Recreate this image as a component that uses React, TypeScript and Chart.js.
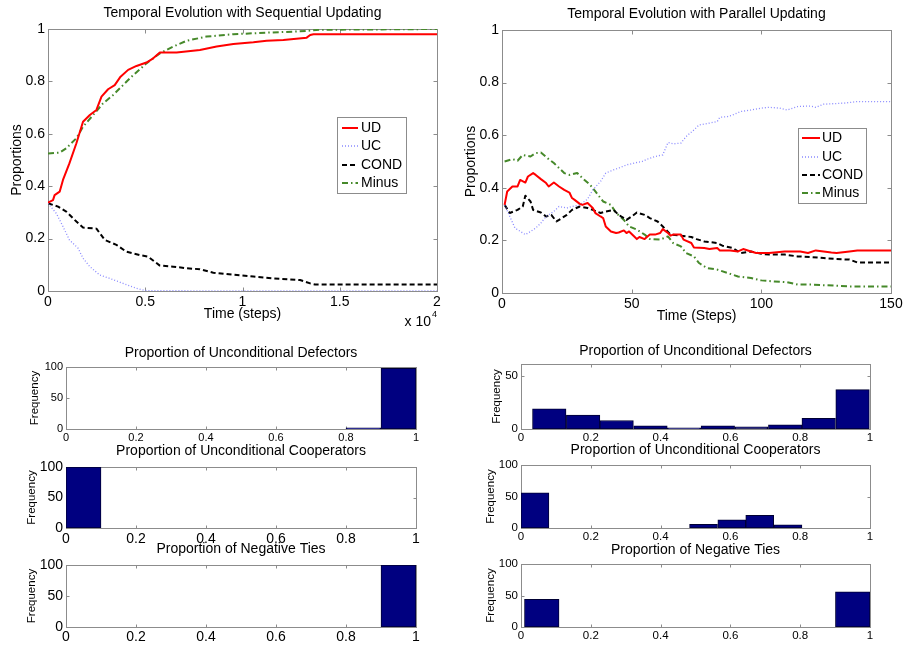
import React, { useEffect, useRef } from 'react';
import { Chart, registerables } from 'chart.js';

Chart.register(...registerables);

const FONT = "'Liberation Sans', Arial, Helvetica, sans-serif";
const AXIS = '#8c8c8c';

// ---------- Tick values ----------
const seqTicksX = [0, 5000, 10000, 15000, 20000];
const propTicksY = [0, 0.2, 0.4, 0.6, 0.8, 1];
const parTicksX = [0, 50, 100, 150];
const histTicksX = [0, 0.2, 0.4, 0.6, 0.8, 1];
const freqTicks100 = [0, 50, 100];
const freqTicks50 = [0, 50];

// ---------- Sequential updating (steps) ----------
const seqUD_t = [0, 257, 340, 600, 770, 1100, 1460, 1800, 2150, 2490, 2750, 3090, 3430, 3730, 4120, 4550, 5060, 5410, 5750, 6610, 7810, 8670, 9530, 10560, 11240, 12100, 13300, 13480, 13650, 20000];
const seqUD_v = [0.337, 0.347, 0.366, 0.379, 0.424, 0.487, 0.564, 0.646, 0.672, 0.691, 0.742, 0.770, 0.786, 0.818, 0.844, 0.859, 0.872, 0.888, 0.910, 0.910, 0.920, 0.933, 0.943, 0.949, 0.955, 0.958, 0.967, 0.977, 0.980, 0.980];
const seqUC_t = [0, 430, 770, 1100, 1550, 1800, 2150, 2660, 3180, 3860, 4550, 5060, 20000];
const seqUC_v = [0.335, 0.296, 0.246, 0.195, 0.163, 0.125, 0.093, 0.061, 0.048, 0.029, 0.010, 0.001, 0];
const seqCOND_t = [0, 520, 940, 1460, 1800, 2490, 2920, 3520, 4030, 4720, 5150, 5750, 6440, 7120, 7810, 8500, 9530, 10560, 11590, 12960, 13480, 13730, 20000];
const seqCOND_v = [0.335, 0.322, 0.303, 0.265, 0.242, 0.238, 0.195, 0.176, 0.150, 0.137, 0.131, 0.097, 0.093, 0.087, 0.083, 0.070, 0.062, 0.055, 0.048, 0.042, 0.029, 0.025, 0.025];
const seqMinus_t = [0, 600, 940, 1460, 1800, 2320, 2830, 3350, 3860, 4380, 5060, 5750, 6440, 7120, 8150, 9530, 11240, 12960, 13990, 20000];
const seqMinus_v = [0.525, 0.528, 0.545, 0.583, 0.627, 0.672, 0.716, 0.748, 0.786, 0.824, 0.869, 0.907, 0.933, 0.955, 0.971, 0.980, 0.986, 0.991, 0.997, 1.0];

// ---------- Parallel updating (steps) ----------
const parUD_t = [1, 2, 4, 6, 7, 9, 10, 12, 13, 15, 17, 18, 20, 22, 24, 26, 27, 28, 30, 31, 33, 35, 36, 38, 39, 40, 42, 44, 45, 47, 48, 49, 51, 52, 53, 55, 57, 59, 61, 62, 64, 65, 66, 69, 70, 73, 74, 78, 80, 83, 84, 88, 91, 93, 96, 98, 103, 109, 115, 118, 121, 127, 129, 134, 137, 150];
const parUD_v = [0.335, 0.386, 0.405, 0.405, 0.430, 0.420, 0.443, 0.456, 0.449, 0.433, 0.418, 0.405, 0.420, 0.405, 0.392, 0.382, 0.361, 0.354, 0.339, 0.335, 0.342, 0.323, 0.304, 0.291, 0.285, 0.253, 0.234, 0.228, 0.230, 0.238, 0.228, 0.234, 0.215, 0.205, 0.213, 0.205, 0.222, 0.222, 0.228, 0.243, 0.228, 0.218, 0.222, 0.222, 0.203, 0.190, 0.173, 0.171, 0.167, 0.171, 0.162, 0.162, 0.158, 0.167, 0.158, 0.152, 0.152, 0.158, 0.158, 0.152, 0.162, 0.154, 0.152, 0.158, 0.162, 0.162];
const parUC_t = [1, 3, 5, 9, 11, 13, 15, 17, 20, 22, 25, 27, 30, 33, 35, 38, 40, 43, 45, 48, 51, 54, 56, 59, 62, 64, 66, 69, 71, 74, 76, 80, 83, 84, 87, 89, 92, 96, 100, 103, 107, 110, 114, 119, 121, 124, 132, 137, 150];
const parUC_v = [0.335, 0.291, 0.247, 0.222, 0.234, 0.247, 0.266, 0.291, 0.310, 0.329, 0.323, 0.329, 0.335, 0.357, 0.392, 0.424, 0.456, 0.468, 0.475, 0.487, 0.494, 0.500, 0.509, 0.519, 0.525, 0.572, 0.567, 0.570, 0.595, 0.620, 0.639, 0.646, 0.652, 0.668, 0.671, 0.677, 0.690, 0.696, 0.703, 0.706, 0.703, 0.696, 0.709, 0.711, 0.706, 0.718, 0.722, 0.728, 0.728];
const parCOND_t = [1, 3, 6, 8, 9, 11, 12, 15, 17, 19, 21, 22, 25, 27, 30, 33, 35, 38, 40, 43, 45, 48, 50, 52, 55, 57, 60, 62, 65, 69, 73, 75, 78, 83, 85, 89, 92, 96, 100, 103, 109, 114, 119, 124, 129, 134, 137, 150];
const parCOND_v = [0.335, 0.304, 0.316, 0.329, 0.370, 0.348, 0.316, 0.306, 0.291, 0.297, 0.272, 0.278, 0.297, 0.316, 0.329, 0.323, 0.316, 0.304, 0.310, 0.316, 0.297, 0.278, 0.291, 0.306, 0.297, 0.285, 0.272, 0.253, 0.222, 0.218, 0.213, 0.205, 0.196, 0.190, 0.180, 0.171, 0.152, 0.158, 0.149, 0.146, 0.146, 0.139, 0.137, 0.133, 0.129, 0.127, 0.116, 0.116];
const parMinus_t = [1, 4, 6, 8, 11, 13, 15, 18, 20, 22, 24, 26, 29, 31, 34, 36, 39, 42, 44, 47, 49, 52, 55, 57, 61, 64, 66, 69, 71, 74, 76, 79, 83, 87, 91, 96, 100, 105, 110, 114, 119, 128, 134, 150];
const parMinus_v = [0.500, 0.509, 0.503, 0.525, 0.519, 0.532, 0.534, 0.509, 0.494, 0.475, 0.456, 0.449, 0.456, 0.437, 0.411, 0.386, 0.348, 0.335, 0.304, 0.278, 0.253, 0.241, 0.222, 0.205, 0.203, 0.215, 0.190, 0.177, 0.152, 0.139, 0.114, 0.095, 0.089, 0.076, 0.063, 0.057, 0.048, 0.044, 0.041, 0.032, 0.032, 0.028, 0.025, 0.025];

// ---------- Histograms (bin centres and counts) ----------
const seqBins = [0.05, 0.15, 0.25, 0.35, 0.45, 0.55, 0.65, 0.75, 0.85, 0.95];
const seqUDCounts = [0, 0, 0, 0, 0, 0, 0, 0, 2, 98];
const seqUCCounts = [100, 0, 0, 0, 0, 0, 0, 0, 0, 0];
const seqNegCounts = [0, 0, 0, 0, 0, 0, 0, 0, 0, 100];
const parUDBins = [0.081, 0.178, 0.274, 0.371, 0.467, 0.564, 0.660, 0.757, 0.853, 0.950];
const parUDCounts = [19, 13, 8, 3, 1, 3, 2, 4, 10, 37];
const parUCBins = [0.040, 0.121, 0.201, 0.282, 0.362, 0.443, 0.523, 0.604, 0.684, 0.765];
const parUCCounts = [56, 0, 0, 0, 0, 0, 6, 13, 20, 5];
const parNegBins = [0.0595, 0.1585, 0.2575, 0.3565, 0.4555, 0.5545, 0.6535, 0.7525, 0.8515, 0.9505];
const parNegCounts = [44, 0, 0, 0, 0, 0, 0, 0, 0, 56];

// ---------- Styles ----------
const STYLE_UD = { borderColor: '#ff0000', borderWidth: 2, borderDash: [] as number[] };
const STYLE_UC = { borderColor: '#8a8aff', borderWidth: 1.3, borderDash: [1, 2] };
const STYLE_COND = { borderColor: '#000000', borderWidth: 2, borderDash: [5, 3] };
const STYLE_MINUS = { borderColor: '#46892a', borderWidth: 2, borderDash: [6, 3, 1.5, 3] };
const BAR_COLOR = '#000080';

function series(label: string, t: number[], v: number[], style: any) {
  const n = Math.min(t.length, v.length);
  const data = [];
  for (let i = 0; i < n; i++) data.push({ x: t[i], y: v[i] });
  return { label, data, ...style, pointRadius: 0, fill: false, tension: 0, borderCapStyle: 'butt', borderJoinStyle: 'round' };
}

function bars(label: string, bins: number[], counts: number[]) {
  const has = (ctx: any) => ctx.raw && ctx.raw.y > 0;
  return {
    label,
    data: bins.map((b, i) => ({ x: b, y: counts[i] })),
    backgroundColor: (ctx: any) => (has(ctx) ? BAR_COLOR : 'rgba(0,0,0,0)'),
    borderColor: (ctx: any) => (has(ctx) ? '#000033' : 'rgba(0,0,0,0)'),
    borderWidth: (ctx: any) => (has(ctx) ? 1 : 0),
    borderSkipped: false,
    barPercentage: 1,
    categoryPercentage: 1,
  };
}

const mboxPlugin = {
  id: 'mbox',
  beforeDatasetsDraw(chart: any, _args: any, opts: any) {
    const { ctx, chartArea: a } = chart;
    const xs = chart.scales.x, ys = chart.scales.y;
    ctx.save();
    ctx.strokeStyle = opts.color;
    ctx.lineWidth = 1;
    ctx.setLineDash([]);
    const L = Math.round(a.left) + 0.5, R = Math.round(a.right) + 0.5;
    const T = Math.round(a.top) + 0.5, B = Math.round(a.bottom) + 0.5;
    ctx.strokeRect(L, T, R - L, B - T);
    const tl = opts.tick;
    ctx.beginPath();
    xs.ticks.forEach((t: any) => {
      const px = Math.round(xs.getPixelForValue(t.value)) + 0.5;
      ctx.moveTo(px, B); ctx.lineTo(px, B - tl);
      ctx.moveTo(px, T); ctx.lineTo(px, T + tl);
    });
    ys.ticks.forEach((t: any) => {
      const py = Math.round(ys.getPixelForValue(t.value)) + 0.5;
      ctx.moveTo(L, py); ctx.lineTo(L + tl, py);
      ctx.moveTo(R, py); ctx.lineTo(R - tl, py);
    });
    ctx.stroke();
    ctx.restore();
  },
  afterDraw(chart: any, _args: any, opts: any) {
    const { ctx } = chart;
    ctx.save();
    const lg = opts.legend;
    if (lg) {
      ctx.fillStyle = '#ffffff';
      ctx.fillRect(lg.x, lg.y, lg.w, lg.h);
      ctx.strokeStyle = opts.color;
      ctx.lineWidth = 1;
      ctx.setLineDash([]);
      ctx.strokeRect(lg.x + 0.5, lg.y + 0.5, lg.w, lg.h);
      chart.data.datasets.forEach((ds: any, i: number) => {
        const yy = lg.rows[i];
        ctx.strokeStyle = ds.borderColor;
        ctx.lineWidth = ds.borderWidth;
        ctx.setLineDash(ds.borderDash || []);
        ctx.beginPath();
        ctx.moveTo(lg.lx1, yy);
        ctx.lineTo(lg.lx2, yy);
        ctx.stroke();
        ctx.setLineDash([]);
        ctx.fillStyle = '#000';
        ctx.font = `14px ${FONT}`;
        ctx.textBaseline = 'middle';
        ctx.textAlign = 'left';
        ctx.fillText(ds.label, lg.tx, yy);
      });
    }
    (opts.extra || []).forEach((e: any) => {
      ctx.fillStyle = '#000';
      ctx.font = `${e.size}px ${FONT}`;
      ctx.textBaseline = 'middle';
      ctx.textAlign = e.align;
      ctx.fillText(e.text, e.x, e.y);
    });
    ctx.restore();
  },
};

type Rect = { x: number; y: number; w: number; h: number };
type Plot = { l: number; t: number; r: number; b: number };

function makeConfig(s: any) {
  const C: Rect = s.C, P: Plot = s.P;
  const tLH = 16;
  const titlePadTop = s.titleCY - C.y - tLH / 2;
  const titlePadBottom = P.t - C.y - tLH - titlePadTop;
  const tickLH = Math.round(s.tickSize * 1.15);
  const yTitleLH = Math.round(s.yTitleSize * 1.15);
  const fnt = (size: number, lh: number) => ({ family: FONT, size, weight: 'normal', lineHeight: `${lh}px` });
  let legend = null;
  if (s.legend) {
    const g = s.legend;
    legend = {
      x: g.x - C.x, y: g.y - C.y, w: g.w, h: g.h,
      rows: g.rows.map((r: number) => r - C.y),
      lx1: g.lx1 - C.x, lx2: g.lx2 - C.x, tx: g.tx - C.x,
    };
  }
  const extra = (s.extra || []).map((e: any) => ({ ...e, x: e.x - C.x, y: e.y - C.y }));
  return {
    type: s.type,
    data: { datasets: s.datasets },
    plugins: [mboxPlugin],
    options: {
      responsive: false,
      animation: false,
      events: [],
      layout: { padding: { left: 0, top: 0, right: C.x + C.w - P.r, bottom: 0 } },
      plugins: {
        legend: { display: false },
        tooltip: { enabled: false },
        title: {
          display: true, text: s.title, fullSize: false, color: '#000',
          font: fnt(14, tLH), padding: { top: titlePadTop, bottom: titlePadBottom },
        },
        mbox: { color: AXIS, tick: s.tickLen, legend, extra },
      },
      scales: {
        x: {
          type: 'linear', min: s.xMin, max: s.xMax, offset: false,
          grid: { display: false, drawTicks: false, tickLength: 0 },
          border: { display: false },
          afterBuildTicks: (sc: any) => { sc.ticks = s.xTicks.map((v: number) => ({ value: v })); },
          afterFit: (sc: any) => { sc.height = C.y + C.h - P.b; },
          ticks: {
            color: '#000', font: fnt(s.tickSize, tickLH), padding: s.xTickCY - P.b - tickLH / 2,
            maxRotation: 0, minRotation: 0, autoSkip: false, callback: s.xFmt || ((v: number) => String(v)),
          },
          title: s.xTitle
            ? { display: true, text: s.xTitle, color: '#000', font: fnt(14, 16), padding: { top: 0, bottom: C.y + C.h - s.xTitleCY - 8 } }
            : { display: false },
        },
        y: {
          type: 'linear', min: s.yMin, max: s.yMax,
          grid: { display: false, drawTicks: false, tickLength: 0 },
          border: { display: false },
          afterBuildTicks: (sc: any) => { sc.ticks = s.yTicks.map((v: number) => ({ value: v })); },
          afterFit: (sc: any) => { sc.width = P.l - C.x; },
          ticks: {
            color: '#000', font: fnt(s.tickSize, tickLH), padding: s.yTickGap,
            autoSkip: false, callback: (v: number) => String(v),
          },
          title: {
            display: true, text: s.yTitle, color: '#000', font: fnt(s.yTitleSize, yTitleLH),
            padding: { top: s.yTitleCX - C.x - yTitleLH / 2, bottom: 0 },
          },
        },
      },
    },
  };
}

const SPECS: any[] = [
  {
    type: 'line',
    C: { x: 0, y: 0, w: 470, h: 330 }, P: { l: 48, t: 29, r: 437, b: 291 },
    title: 'Temporal Evolution with Sequential Updating', titleCY: 13,
    tickSize: 14, xTickCY: 302, yTickGap: 3, tickLen: 4,
    yTitle: 'Proportions', yTitleSize: 14, yTitleCX: 17,
    xTitle: 'Time (steps)', xTitleCY: 314,
    xMin: 0, xMax: 20000, xTicks: seqTicksX, xFmt: (v: number) => String(v / 10000),
    yMin: 0, yMax: 1, yTicks: propTicksY,
    datasets: () => [
      series('UD', seqUD_t, seqUD_v, STYLE_UD),
      series('UC', seqUC_t, seqUC_v, STYLE_UC),
      series('COND', seqCOND_t, seqCOND_v, STYLE_COND),
      series('Minus', seqMinus_t, seqMinus_v, STYLE_MINUS),
    ],
    legend: { x: 337, y: 117, w: 69, h: 76, rows: [128, 146, 165, 183], lx1: 342, lx2: 358, tx: 361 },
    extra: [
      { text: 'x 10', x: 431, y: 322, size: 14, align: 'right' },
      { text: '4', x: 432, y: 315, size: 9, align: 'left' },
    ],
  },
  {
    type: 'line',
    C: { x: 452, y: 0, w: 470, h: 330 }, P: { l: 502, t: 30, r: 891, b: 293 },
    title: 'Temporal Evolution with Parallel Updating', titleCY: 14,
    tickSize: 14, xTickCY: 304, yTickGap: 3, tickLen: 4,
    yTitle: 'Proportions', yTitleSize: 14, yTitleCX: 471,
    xTitle: 'Time (Steps)', xTitleCY: 316,
    xMin: 0, xMax: 150, xTicks: parTicksX,
    yMin: 0, yMax: 1, yTicks: propTicksY,
    datasets: () => [
      series('UD', parUD_t, parUD_v, STYLE_UD),
      series('UC', parUC_t, parUC_v, STYLE_UC),
      series('COND', parCOND_t, parCOND_v, STYLE_COND),
      series('Minus', parMinus_t, parMinus_v, STYLE_MINUS),
    ],
    legend: { x: 798, y: 128, w: 68, h: 75, rows: [138, 157, 175, 193], lx1: 802, lx2: 820, tx: 822 },
  },
  {
    type: 'bar',
    C: { x: 0, y: 335, w: 440, h: 113 }, P: { l: 66, t: 367, r: 416, b: 429 },
    title: 'Proportion of Unconditional Defectors', titleCY: 353,
    tickSize: 11, xTickCY: 438, yTickGap: 3, tickLen: 3,
    yTitle: 'Frequency', yTitleSize: 11.5, yTitleCX: 35,
    xMin: 0, xMax: 1, xTicks: histTicksX, yMin: 0, yMax: 100, yTicks: freqTicks100,
    datasets: () => [bars('UD', seqBins, seqUDCounts)],
  },
  {
    type: 'bar',
    C: { x: 0, y: 437, w: 440, h: 111 }, P: { l: 66, t: 467, r: 416, b: 528 },
    title: 'Proportion of Unconditional Cooperators', titleCY: 451,
    tickSize: 14, xTickCY: 539, yTickGap: 3, tickLen: 3,
    yTitle: 'Frequency', yTitleSize: 11.5, yTitleCX: 32,
    xMin: 0, xMax: 1, xTicks: histTicksX, yMin: 0, yMax: 100, yTicks: freqTicks100,
    datasets: () => [bars('UC', seqBins, seqUCCounts)],
  },
  {
    type: 'bar',
    C: { x: 0, y: 535, w: 440, h: 113 }, P: { l: 66, t: 565, r: 416, b: 627 },
    title: 'Proportion of Negative Ties', titleCY: 549,
    tickSize: 14, xTickCY: 637, yTickGap: 3, tickLen: 3,
    yTitle: 'Frequency', yTitleSize: 11.5, yTitleCX: 32,
    xMin: 0, xMax: 1, xTicks: histTicksX, yMin: 0, yMax: 100, yTicks: freqTicks100,
    datasets: () => [bars('Neg', seqBins, seqNegCounts)],
  },
  {
    type: 'bar',
    C: { x: 452, y: 335, w: 440, h: 113 }, P: { l: 521, t: 364, r: 870, b: 429 },
    title: 'Proportion of Unconditional Defectors', titleCY: 351,
    tickSize: 11.5, xTickCY: 438, yTickGap: 3, tickLen: 3,
    yTitle: 'Frequency', yTitleSize: 11.5, yTitleCX: 497,
    xMin: 0, xMax: 1, xTicks: histTicksX, yMin: 0, yMax: 61, yTicks: freqTicks50,
    datasets: () => [bars('UD', parUDBins, parUDCounts)],
  },
  {
    type: 'bar',
    C: { x: 452, y: 437, w: 440, h: 111 }, P: { l: 521, t: 465, r: 870, b: 528 },
    title: 'Proportion of Unconditional Cooperators', titleCY: 450,
    tickSize: 11.5, xTickCY: 537, yTickGap: 3, tickLen: 3,
    yTitle: 'Frequency', yTitleSize: 11.5, yTitleCX: 491,
    xMin: 0, xMax: 1, xTicks: histTicksX, yMin: 0, yMax: 100, yTicks: freqTicks100,
    datasets: () => [bars('UC', parUCBins, parUCCounts)],
  },
  {
    type: 'bar',
    C: { x: 452, y: 535, w: 440, h: 113 }, P: { l: 521, t: 564, r: 870, b: 627 },
    title: 'Proportion of Negative Ties', titleCY: 550,
    tickSize: 11.5, xTickCY: 636, yTickGap: 3, tickLen: 3,
    yTitle: 'Frequency', yTitleSize: 11.5, yTitleCX: 491,
    xMin: 0, xMax: 1, xTicks: histTicksX, yMin: 0, yMax: 100, yTicks: freqTicks100,
    datasets: () => [bars('Neg', parNegBins, parNegCounts)],
  },
];

function SubPlot({ spec }: { spec: any }) {
  const ref = useRef<HTMLCanvasElement | null>(null);
  useEffect(() => {
    if (!ref.current) return;
    const cfg: any = makeConfig({ ...spec, datasets: spec.datasets() });
    const chart = new Chart(ref.current, cfg);
    return () => chart.destroy();
  }, [spec]);
  const C = spec.C;
  return (
    <canvas
      ref={ref}
      width={C.w}
      height={C.h}
      style={{ position: 'absolute', left: C.x, top: C.y, width: C.w, height: C.h }}
    />
  );
}

export default function App() {
  return (
    <div style={{ position: 'absolute', left: 0, top: 0, width: 903, height: 648, overflow: 'hidden', background: '#ffffff' }}>
      {SPECS.map((s, i) => (
        <SubPlot key={i} spec={s} />
      ))}
    </div>
  );
}
